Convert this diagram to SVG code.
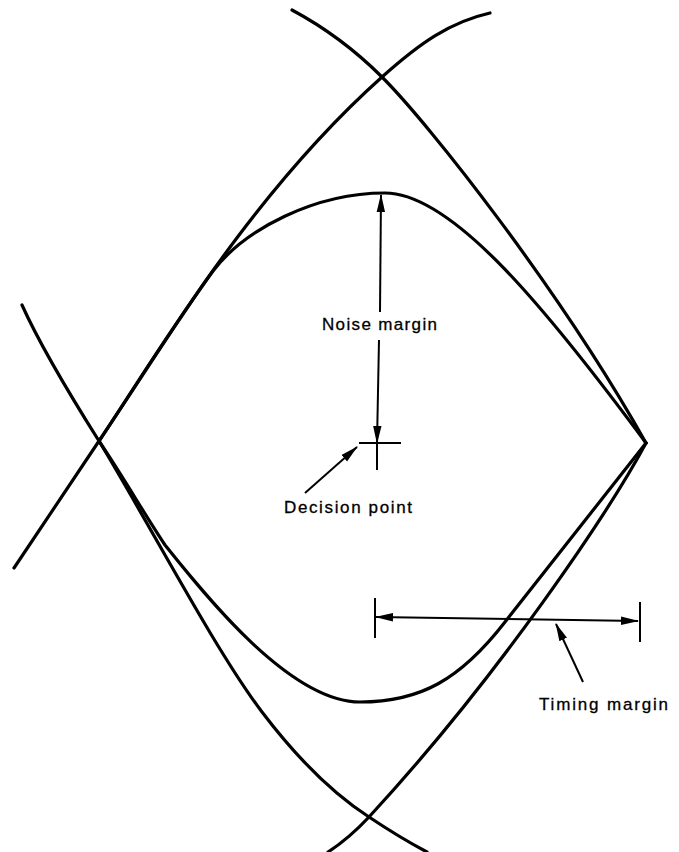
<svg xmlns="http://www.w3.org/2000/svg" width="679" height="852" viewBox="0 0 679 852">
  <style>
    .trace { fill: none; stroke: #000; stroke-width: 3.2; stroke-linecap: round; stroke-linejoin: round; }
    .dim { fill: none; stroke: #000; stroke-width: 2; }
    .lbl { font-family: "Liberation Sans", Arial, sans-serif; font-size: 17px; fill: #000; stroke: #000; stroke-width: 0.3; }
  </style>
  <defs>
    <marker id="ah" markerUnits="userSpaceOnUse" markerWidth="18" markerHeight="10" viewBox="0 0 18 10" refX="17" refY="5" orient="auto-start-reverse">
      <path d="M0,0.8 L18,5 L0,9.2 z" fill="#000"/>
    </marker>
  </defs>
  <rect width="679" height="852" fill="#fff"/>

  <g id="traces">
    <path class="trace" d="M14,568 L99,441 C160,350 250,195 382,77 C420,43 450,22 490,13"/>
    <path class="trace" d="M292,10 C320,25 350,45 382,77 C430,125 560,290 646,443"/>
    <path class="trace" d="M646,443 C610,510 500,675 369,817 C355,832 342,843 328,852"/>
    <path class="trace" d="M22,305 C40,345 70,395 99,441 C150,525 215,650 262,712 C300,762 335,795 369,817 C390,831 410,843 427,852"/>
    <path class="trace" d="M99,441 C140,380 180,316 213,271 C245,229 315,193 385,193 C450,193 540,300 646,443"/>
    <path class="trace" d="M99,441 C125,480 145,515 165,545 C205,595 290,702 360,702 C420,702 460,680 505,622 L646,443"/>
  </g>

  <g id="noise-margin">
    <line class="dim" x1="380" y1="312" x2="381" y2="195" marker-end="url(#ah)"/>
    <line class="dim" x1="379" y1="340" x2="377" y2="443" marker-end="url(#ah)"/>
    <text class="lbl" x="322" y="330" textLength="115" lengthAdjust="spacing">Noise margin</text>
  </g>

  <g id="decision-point">
    <line class="dim" x1="359" y1="443" x2="401" y2="443"/>
    <line class="dim" x1="377" y1="443" x2="377" y2="470"/>
    <line class="dim" x1="305" y1="493" x2="357" y2="447" marker-end="url(#ah)"/>
    <text class="lbl" x="284" y="513" textLength="128" lengthAdjust="spacing">Decision point</text>
  </g>

  <g id="timing-margin">
    <line class="dim" x1="375" y1="598" x2="375" y2="638"/>
    <line class="dim" x1="640" y1="602" x2="640" y2="642"/>
    <line class="dim" x1="376" y1="617" x2="638" y2="621" marker-start="url(#ah)" marker-end="url(#ah)"/>
    <line class="dim" x1="583" y1="682" x2="556" y2="624" marker-end="url(#ah)"/>
    <text class="lbl" x="539" y="710" textLength="129" lengthAdjust="spacing">Timing margin</text>
  </g>
</svg>
